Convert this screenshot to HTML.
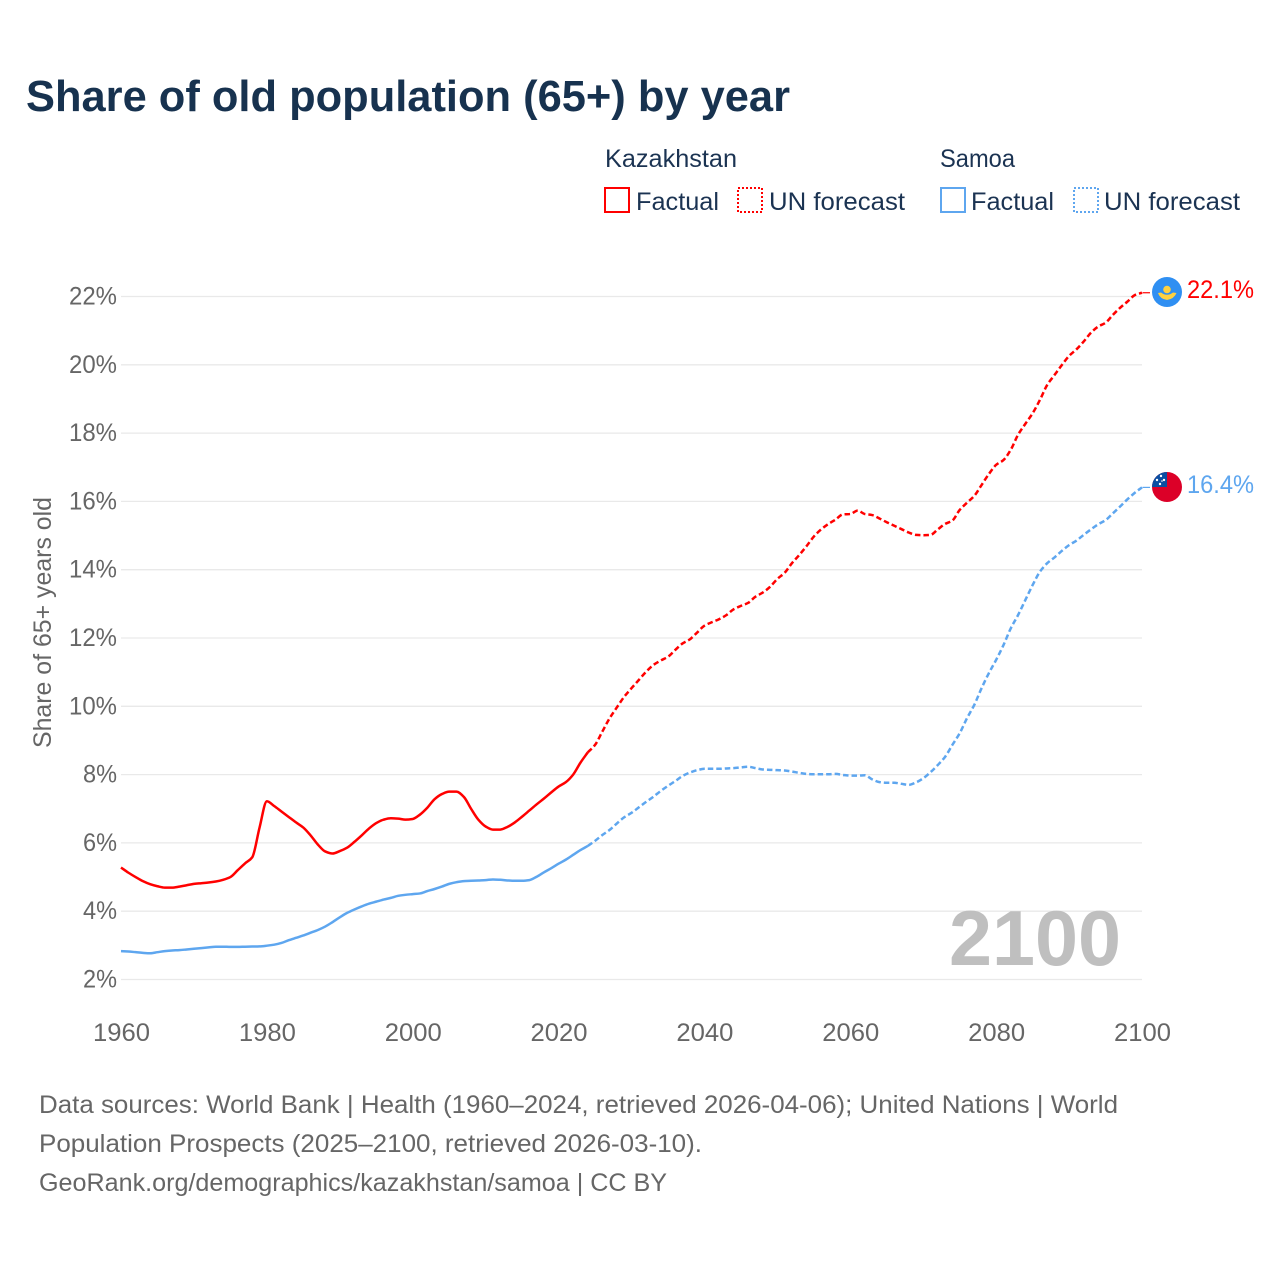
<!DOCTYPE html>
<html lang="en">
<head>
<meta charset="utf-8">
<title>Share of old population (65+) by year</title>
<style>
html,body{margin:0;padding:0;background:#fff;width:1280px;height:1280px;overflow:hidden}
svg{display:block}
text{font-family:"Liberation Sans",sans-serif}
</style>
</head>
<body>
<svg id="chart" xmlns="http://www.w3.org/2000/svg" width="1280" height="1280" viewBox="0 0 1280 1280">
  <defs>
    <clipPath id="flag-clip-kz"><circle cx="1167" cy="292" r="15"/></clipPath>
    <clipPath id="flag-clip-ws"><circle cx="1167" cy="487" r="15"/></clipPath>
  </defs>
  <rect x="0" y="0" width="1280" height="1280" fill="#fff"/>
  <text x="26" y="111" font-size="44" font-weight="700" fill="#17324f" textLength="764" lengthAdjust="spacingAndGlyphs">Share of old population (65+) by year</text>

  <g font-size="25" fill="#1b3352">
    <text x="605" y="167" textLength="132" lengthAdjust="spacingAndGlyphs">Kazakhstan</text>
    <text x="940" y="167" textLength="75" lengthAdjust="spacingAndGlyphs">Samoa</text>
    <rect x="605" y="188" width="24" height="24" fill="none" stroke="#ff0000" stroke-width="2"/>
    <text x="636" y="210" textLength="83" lengthAdjust="spacingAndGlyphs">Factual</text>
    <rect x="738" y="188" width="24" height="24" fill="none" stroke="#ff0000" stroke-width="2" stroke-dasharray="2 2"/>
    <text x="769" y="210" textLength="136" lengthAdjust="spacingAndGlyphs">UN forecast</text>
    <rect x="941" y="188" width="24" height="24" fill="none" stroke="#5ea6ef" stroke-width="2"/>
    <text x="971" y="210" textLength="83" lengthAdjust="spacingAndGlyphs">Factual</text>
    <rect x="1074" y="188" width="24" height="24" fill="none" stroke="#5ea6ef" stroke-width="2" stroke-dasharray="2 2"/>
    <text x="1104" y="210" textLength="136" lengthAdjust="spacingAndGlyphs">UN forecast</text>
  </g>

  <g id="grid"></g>
  <g id="y-ticks"></g>
  <g id="x-ticks"></g>
  <text transform="translate(51,748) rotate(-90)" font-size="25" fill="#666" textLength="251" lengthAdjust="spacingAndGlyphs">Share of 65+ years old</text>
  <text x="949" y="965" font-size="78" font-weight="700" fill="#bfbfbf" textLength="172" lengthAdjust="spacingAndGlyphs">2100</text>
  <g id="series"></g>

  <g clip-path="url(#flag-clip-kz)">
    <rect x="1150" y="275" width="34" height="34" fill="#2f8ff2"/>
    <circle cx="1167" cy="289.5" r="3.8" fill="#ffd13f"/>
    <path d="M1158 293 L1161 292.5 Q1167 297 1173 292.5 L1176.5 293 Q1174 299 1167 300 Q1160 299 1158 293Z" fill="#ffd13f"/>
  </g>
  <text x="1187" y="298" font-size="25" fill="#ff0000" textLength="67" lengthAdjust="spacingAndGlyphs">22.1%</text>

  <g clip-path="url(#flag-clip-ws)">
    <rect x="1150" y="470" width="34" height="34" fill="#dc0028"/>
    <rect x="1150" y="470" width="17" height="17" fill="#0b4ea2"/>
    <g fill="#fff">
      <circle cx="1161" cy="476" r="1.2"/><circle cx="1157" cy="480" r="1.2"/><circle cx="1164" cy="480" r="1.2"/><circle cx="1160" cy="484" r="1.2"/><circle cx="1162" cy="481" r=".8"/>
    </g>
  </g>
  <text x="1187" y="493" font-size="25" fill="#5ea6ef" textLength="67" lengthAdjust="spacingAndGlyphs">16.4%</text>

  <g font-size="25" fill="#666">
    <text x="39" y="1113" textLength="1079" lengthAdjust="spacingAndGlyphs">Data sources: World Bank | Health (1960–2024, retrieved 2026-04-06); United Nations | World</text>
    <text x="39" y="1152" textLength="663" lengthAdjust="spacingAndGlyphs">Population Prospects (2025–2100, retrieved 2026-03-10).</text>
    <text x="39" y="1191" textLength="628" lengthAdjust="spacingAndGlyphs">GeoRank.org/demographics/kazakhstan/samoa | CC BY</text>
  </g>
</svg>
<script>
var yTicks = [2, 4, 6, 8, 10, 12, 14, 16, 18, 20, 22];
var xTicks = [1960, 1980, 2000, 2020, 2040, 2060, 2080, 2100];
var factualStartYear = 1960;
var forecastStartYear = 2024;
var kazakhstanFactual = [5.28,5.13,5.0,4.88,4.79,4.73,4.69,4.69,4.72,4.76,4.8,4.82,4.84,4.87,4.92,5.0,5.2,5.4,5.58,6.45,7.22,7.08,6.92,6.76,6.6,6.45,6.22,5.95,5.75,5.69,5.76,5.86,6.03,6.22,6.42,6.58,6.68,6.72,6.71,6.68,6.7,6.83,7.03,7.28,7.43,7.5,7.5,7.35,7.0,6.68,6.48,6.39,6.39,6.47,6.6,6.77,6.95,7.13,7.3,7.48,7.65,7.78,8.0,8.35,8.65];
var kazakhstanForecast = [8.65,8.87,9.26,9.65,9.97,10.28,10.53,10.77,11.01,11.21,11.34,11.45,11.65,11.84,11.96,12.16,12.36,12.46,12.55,12.67,12.84,12.94,13.03,13.21,13.33,13.5,13.73,13.91,14.19,14.43,14.69,14.97,15.18,15.34,15.47,15.62,15.63,15.73,15.63,15.6,15.5,15.39,15.29,15.19,15.09,15.02,15.01,15.02,15.18,15.34,15.44,15.75,15.96,16.16,16.48,16.8,17.07,17.21,17.51,17.95,18.27,18.58,18.97,19.41,19.7,19.99,20.26,20.45,20.68,20.94,21.12,21.23,21.46,21.67,21.85,22.04,22.11];
var samoaFactual = [2.83,2.82,2.8,2.78,2.77,2.8,2.83,2.85,2.86,2.88,2.9,2.92,2.94,2.96,2.96,2.955,2.955,2.96,2.965,2.97,2.99,3.02,3.07,3.15,3.22,3.29,3.37,3.45,3.55,3.68,3.82,3.95,4.05,4.14,4.22,4.28,4.34,4.39,4.45,4.48,4.5,4.52,4.59,4.65,4.72,4.8,4.85,4.88,4.89,4.9,4.91,4.93,4.92,4.9,4.89,4.89,4.91,5.01,5.14,5.26,5.39,5.51,5.65,5.79,5.91];
var samoaForecast = [5.91,6.06,6.23,6.38,6.57,6.75,6.88,7.04,7.2,7.35,7.52,7.67,7.81,7.96,8.06,8.13,8.17,8.17,8.17,8.18,8.19,8.21,8.23,8.19,8.15,8.14,8.13,8.12,8.09,8.05,8.02,8.01,8.01,8.01,8.02,7.99,7.97,7.97,7.98,7.86,7.78,7.76,7.76,7.73,7.7,7.77,7.89,8.07,8.28,8.52,8.87,9.21,9.65,10.04,10.53,10.97,11.36,11.79,12.28,12.67,13.11,13.55,13.94,14.19,14.36,14.55,14.72,14.85,15.02,15.18,15.33,15.45,15.65,15.85,16.06,16.25,16.41];

var SVG_NS = 'http://www.w3.org/2000/svg';
function xScale(year) { return 121 + (year - 1960) * (1142 - 121) / 140; }
function yScale(value) { return 979.5 - (value - 2) * (979.5 - 296.5) / 20; }
function make(tag, parentId) {
  var el = document.createElementNS(SVG_NS, tag);
  document.getElementById(parentId).appendChild(el);
  return el;
}
/* Monotone cubic path through the yearly points */
function linePath(values, startYear) {
  var n = values.length;
  var px = values.map(function (v, i) { return xScale(startYear + i); });
  var py = values.map(function (v) { return yScale(v); });
  var h = px[1] - px[0];
  var s = [];
  for (var i = 0; i < n - 1; i++) { s.push((py[i + 1] - py[i]) / h); }
  var m = [s[0]];
  for (var j = 1; j < n - 1; j++) {
    m.push(s[j - 1] * s[j] <= 0 ? 0 : 2 * s[j - 1] * s[j] / (s[j - 1] + s[j]));
  }
  m.push(s[n - 2]);
  var d = 'M' + px[0].toFixed(2) + ' ' + py[0].toFixed(2);
  for (var k = 0; k < n - 1; k++) {
    d += ' C' + (px[k] + h / 3).toFixed(2) + ' ' + (py[k] + m[k] * h / 3).toFixed(2) +
         ' ' + (px[k + 1] - h / 3).toFixed(2) + ' ' + (py[k + 1] - m[k + 1] * h / 3).toFixed(2) +
         ' ' + px[k + 1].toFixed(2) + ' ' + py[k + 1].toFixed(2);
  }
  return d;
}
function drawLine(values, startYear, color, dashed, name) {
  var p = make('path', 'series');
  
  
  p.setAttribute('d', linePath(values, startYear));
  p.setAttribute('fill', 'none');
  p.setAttribute('stroke', color);
  p.setAttribute('stroke-width', '2.5');
  p.setAttribute('stroke-linejoin', 'round');
  if (dashed) { p.setAttribute('stroke-dasharray', '5.5 3'); }
}
function drawConnector(lastValue, color, name) {
  var c = make('line', 'series');
  
  
  c.setAttribute('x1', xScale(2100) + 0.5);
  c.setAttribute('x2', xScale(2100) + 8);
  c.setAttribute('y1', yScale(lastValue));
  c.setAttribute('y2', yScale(lastValue));
  c.setAttribute('stroke', color);
  c.setAttribute('stroke-width', '1.2');
}

yTicks.forEach(function (t) {
  var g = make('line', 'grid');
  
  
  g.setAttribute('x1', xScale(1960));
  g.setAttribute('x2', xScale(2100));
  g.setAttribute('y1', yScale(t));
  g.setAttribute('y2', yScale(t));
  g.setAttribute('stroke', '#e9e9e9');
  g.setAttribute('stroke-width', '1.3');
  var label = make('text', 'y-ticks');
  
  
  var str = t + '%';
  label.textContent = str;
  label.setAttribute('x', 117);
  label.setAttribute('y', yScale(t) + 8);
  label.setAttribute('text-anchor', 'end');
  label.setAttribute('font-size', '25');
  label.setAttribute('fill', '#666');
  label.setAttribute('textLength', str.length === 3 ? 48 : 34);
  label.setAttribute('lengthAdjust', 'spacingAndGlyphs');
});
xTicks.forEach(function (t) {
  var label = make('text', 'x-ticks');
  
  
  label.textContent = String(t);
  label.setAttribute('x', xScale(t) + 0.5);
  label.setAttribute('y', 1041);
  label.setAttribute('text-anchor', 'middle');
  label.setAttribute('font-size', '25');
  label.setAttribute('fill', '#666');
  label.setAttribute('textLength', 57);
  label.setAttribute('lengthAdjust', 'spacingAndGlyphs');
});

drawLine(samoaFactual, factualStartYear, '#5ea6ef', false, 'samoa-factual-line');
drawLine(samoaForecast, forecastStartYear, '#5ea6ef', true, 'samoa-forecast-line');
drawLine(kazakhstanFactual, factualStartYear, '#ff0000', false, 'kazakhstan-factual-line');
drawLine(kazakhstanForecast, forecastStartYear, '#ff0000', true, 'kazakhstan-forecast-line');
drawConnector(kazakhstanForecast[kazakhstanForecast.length - 1], '#ff0000', 'kazakhstan-flag-connector');
drawConnector(samoaForecast[samoaForecast.length - 1], '#5ea6ef', 'samoa-flag-connector');
</script>
</body>
</html>
